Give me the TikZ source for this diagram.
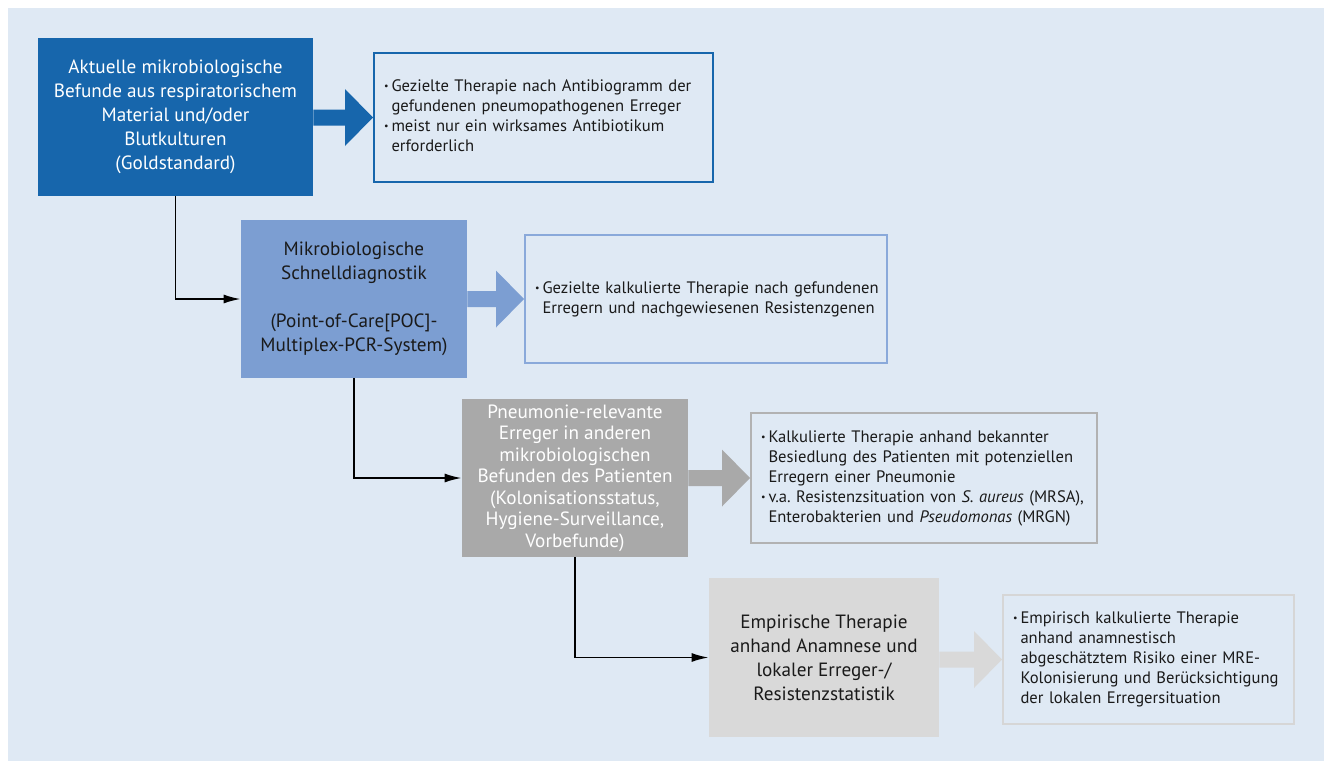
\documentclass[tikz,border=0pt]{standalone}
\usepackage{fontspec}
\setmainfont{PT Sans}
\usetikzlibrary{arrows.meta,calc}
\definecolor{BackClr}{RGB}{223,233,244}
\definecolor{BlueDarkClr}{RGB}{23,102,172}
\definecolor{BlueMidClr}{RGB}{124,158,210}
\definecolor{BlueLineClr}{RGB}{138,169,218}
\definecolor{GrayMidClr}{RGB}{169,169,169}
\definecolor{GrayLineClr}{RGB}{178,178,178}
\definecolor{GrayLightClr}{RGB}{217,217,217}
\definecolor{GrayPaleClr}{RGB}{214,214,214}
\definecolor{TextClr}{RGB}{26,26,26}
\newcommand\bul{\raisebox{.2ex}{\scalebox{.6}{\textbullet}}}

\begin{document}
\begin{tikzpicture}[x=0.5pt,y=-0.5pt,
  titlebox/.style={fill=#1,inner sep=0pt,minimum height=79pt,align=center,
    font=\fontsize{9.6}{12}\selectfont},
  notebox/.style={draw=#1,line width=1pt,inner xsep=5pt,inner ysep=0pt,
    minimum height=64.5pt,align=left,text=TextClr,
    font=\fontsize{8.3}{10}\selectfont},
  conn/.style={line width=0.85pt,-{Latex[length=8.5pt,width=4.5pt]}}]

\useasboundingbox (0,0) rectangle (1324,761);
\fill[BackClr] (8,8) rectangle (1324,761);

% Befundkaesten links
\node[titlebox=BlueDarkClr,text=white,minimum width=137.5pt] (b1) at (175.5,117)
  {Aktuelle mikrobiologische\\Befunde aus respiratorischem\\Material und/oder\\Blutkulturen\\(Goldstandard)};
\node[titlebox=BlueMidClr,text=TextClr,minimum width=113pt] (b2) at (354,299)
  {Mikrobiologische\\Schnelldiagnostik\\[12pt](Point-of-Care[POC]-\\Multiplex-PCR-System)};
\node[titlebox=GrayMidClr,text=white,minimum width=113pt,
  font=\fontsize{9.6}{10.75}\selectfont] (b3) at (575,478)
  {Pneumonie-relevante\\Erreger in anderen\\mikrobiologischen\\Befunden des Patienten\\(Kolonisationsstatus,\\Hygiene-Surveillance,\\Vorbefunde)};
\node[titlebox=GrayLightClr,text=TextClr,minimum width=115pt,minimum height=79.5pt] (b4) at (824,657.5)
  {Empirische Therapie\\anhand Anamnese und\\lokaler Erreger-/\\Resistenzstatistik};

% Therapiekaesten rechts
\node[notebox=BlueDarkClr,text width=159.5pt] (r1) at (543.5,117.5)
  {\begin{tabular}{@{}l@{\hspace{1.5pt}}l@{}}
   \bul & Gezielte Therapie nach Antibiogramm der\\
        & gefundenen pneumopathogenen Erreger\\
   \bul & meist nur ein wirksames Antibiotikum\\
        & erforderlich
   \end{tabular}};
\node[notebox=BlueLineClr,text width=171pt,minimum height=64pt] (r2) at (706,299)
  {\begin{tabular}{@{}l@{\hspace{1.5pt}}l@{}}
   \bul & Gezielte kalkulierte Therapie nach gefundenen\\
        & Erregern und nachgewiesenen Resistenzgenen
   \end{tabular}};
\node[notebox=GrayLineClr,text width=163pt,minimum height=65pt] (r3) at (924,478)
  {\begin{tabular}{@{}l@{\hspace{1.5pt}}l@{}}
   \bul & Kalkulierte Therapie anhand bekannter\\
        & Besiedlung des Patienten mit potenziellen\\
        & Erregern einer Pneumonie\\
   \bul & v.a.\ Resistenzsituation von \textit{S.\ aureus} (MRSA),\\
        & Enterobakterien und \textit{Pseudomonas} (MRGN)
   \end{tabular}};
\node[notebox=GrayPaleClr,text width=135.5pt] (r4) at (1148.5,659.5)
  {\begin{tabular}{@{}l@{\hspace{1.5pt}}l@{}}
   \bul & Empirisch kalkulierte Therapie\\
        & anhand anamnestisch\\
        & abgeschätztem Risiko einer MRE-\\
        & Kolonisierung und Berücksichtigung\\
        & der lokalen Erregersituation
   \end{tabular}};

% Blockpfeile
\foreach \s/\t/\c in {b1/r1/BlueDarkClr,b2/r2/BlueMidClr,b3/r3/GrayMidClr,b4/r4/GrayLightClr}{
  \path (\s.east |- \t.west) coordinate (st);
  \fill[\c] ($(st)+(0,-8)$) -- ($(\t.west)+(-28,-8)$) -- ($(\t.west)+(-28,-28.5)$)
    -- (\t.west) -- ($(\t.west)+(-28,28.5)$) -- ($(\t.west)+(-28,8)$)
    -- ($(st)+(0,8)$) -- cycle;
}

\draw[conn] (b1.south) |- (b2.west);
\draw[conn] (b2.south) |- (b3.west);
\draw[conn] (b3.south) |- (b4.west);

\end{tikzpicture}
\end{document}
